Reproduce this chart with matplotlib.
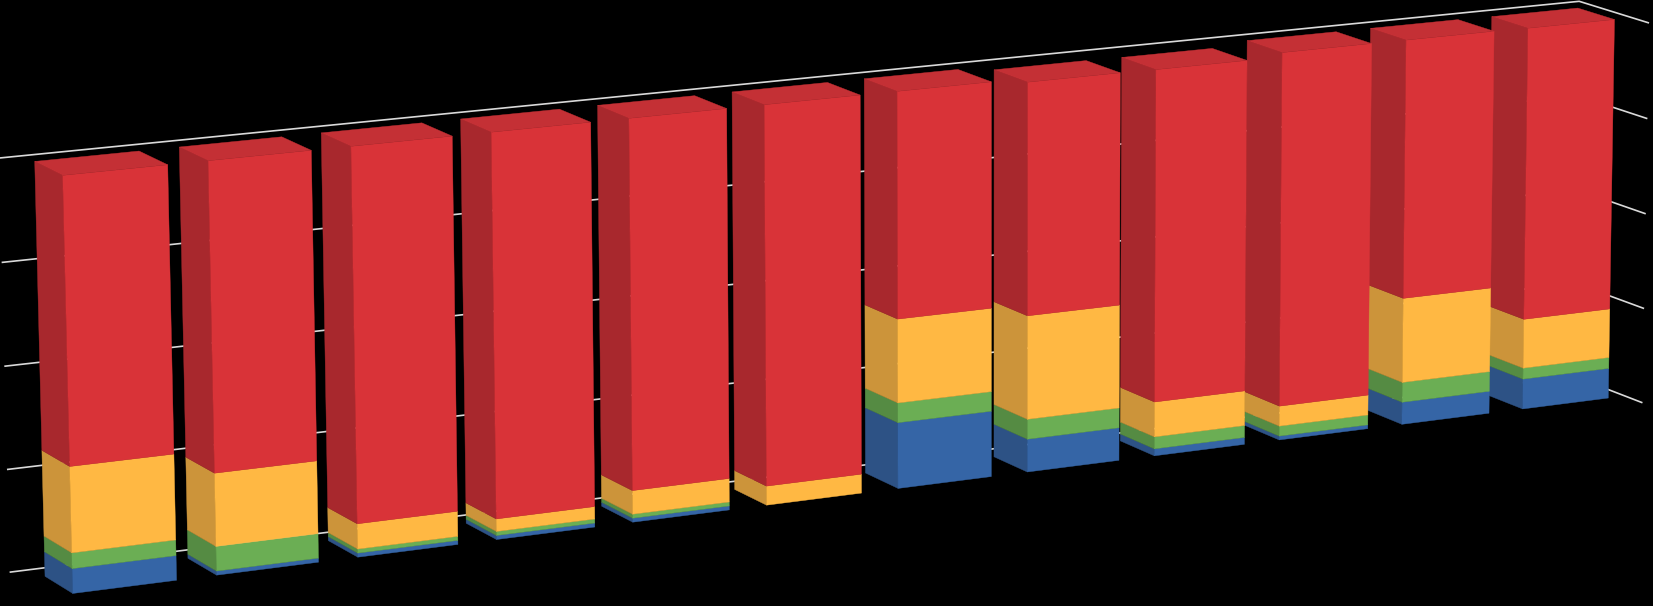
import numpy as np
from matplotlib import pyplot as plt

# percent shares per bar
blue = [6.0, 1.0, 1.0, 1.0, 1.0, 0.0, 16.7, 8.4, 1.8, 1.0, 5.8, 7.9]
green = [3.8, 6.0, 1.0, 1.0, 1.0, 0.0, 5.0, 5.1, 3.1, 2.6, 5.2, 2.9]
yellow = [20.8, 17.8, 6.2, 3.1, 5.9, 4.8, 21.2, 26.4, 9.0, 5.2, 22.0, 12.9]
red = [69.4, 75.2, 91.8, 94.9, 92.1, 95.2, 57.1, 59.1, 85.0, 91.2, 67.0, 76.2]
grid_levels = [0, 25, 50, 75, 100]

series = [blue, green, yellow, red]
front_cols = ["#3565a6", "#6bae54", "#ffb843", "#d93338"]
side_cols = ["#2d5285", "#558b43", "#cc943a", "#a8282d"]
top_col = "#c43035"

W, H = 1653, 606
BAR_W = 0.72
WALL_L, WALL_R = -0.16, 11.86
WALL_BACK, WALL_FRONT = 1.42, -0.46

# camera: world (bar no, percent, depth) -> image pixel, fitted by least squares
camera_world = [
    (0, 0, 0), (BAR_W, 0, 0), (0, 100, 0), (BAR_W, 100, 0),
    (0, 100, 1), (BAR_W, 100, 1), (0, 0, 1),
    (6, 0, 0), (6 + BAR_W, 0, 0), (6, 100, 0), (6 + BAR_W, 100, 0),
    (6, 100, 1), (6 + BAR_W, 100, 1), (5, 0, 1),
    (11, 0, 0), (11 + BAR_W, 0, 0), (11, 100, 0), (11 + BAR_W, 100, 0),
    (11, 100, 1), (11 + BAR_W, 100, 1), (11, 0, 1),
]
camera_pix = [
    (74, 593), (176, 582), (63, 175), (167, 165),
    (35, 161), (138, 151), (45, 574),
    (896, 488), (991, 477), (898, 92), (992, 82),
    (865, 79), (958, 70), (735, 491),
    (1523, 408), (1607, 397), (1529, 28), (1615, 19),
    (1492, 16), (1575, 7), (1489, 396),
]


def fit_camera(world, pix):
    rows = []
    rhs = []
    for (x, y, z), (u, v) in zip(world, pix):
        y = y / 100
        rows.append([x, y, z, 1, 0, 0, 0, 0, -u * x, -u * y, -u * z])
        rhs.append(u)
        rows.append([0, 0, 0, 0, x, y, z, 1, -v * x, -v * y, -v * z])
        rhs.append(v)
    p = np.linalg.lstsq(np.array(rows, float), np.array(rhs, float), rcond=None)[0]
    return np.append(p, 1).reshape(3, 4)


cam = fit_camera(camera_world, camera_pix)


def project(pts):
    pts = np.array(pts, float)
    pts[:, 1] /= 100
    h = cam @ np.column_stack([pts, np.ones(len(pts))]).T
    return h[0] / h[2], h[1] / h[2]


def face(ax, pts, col, z):
    u, v = project(pts)
    ax.fill(u, v, color=col, linewidth=0.3, zorder=z)


fig = plt.figure(figsize=(W / 100, H / 100), dpi=100, facecolor="black")
ax = fig.add_axes([0, 0, 1, 1])
ax.set_xlim(0, W)
ax.set_ylim(H, 0)
ax.axis("off")

for lev in grid_levels:
    u, v = project([(WALL_L, lev, WALL_BACK), (WALL_R, lev, WALL_BACK), (WALL_R, lev, WALL_FRONT)])
    ax.plot(u, v, color="#d9d9d9", linewidth=1.2, zorder=1)

# right to left: the camera sits left of the bars, so left bars hide right ones
for i in reversed(range(len(blue))):
    z = 2 + (len(blue) - i)
    x0, x1 = i, i + BAR_W
    lo = 0
    for vals, fc, sc in zip(series, front_cols, side_cols):
        hi = lo + vals[i]
        if vals[i] > 0:
            face(ax, [(x0, lo, 1), (x0, hi, 1), (x0, hi, 0), (x0, lo, 0)], sc, z)
            face(ax, [(x0, lo, 0), (x0, hi, 0), (x1, hi, 0), (x1, lo, 0)], fc, z)
        lo = hi
    face(ax, [(x0, lo, 0), (x0, lo, 1), (x1, lo, 1), (x1, lo, 0)], top_col, z)

fig.savefig("out.png", dpi=100, facecolor="black")
